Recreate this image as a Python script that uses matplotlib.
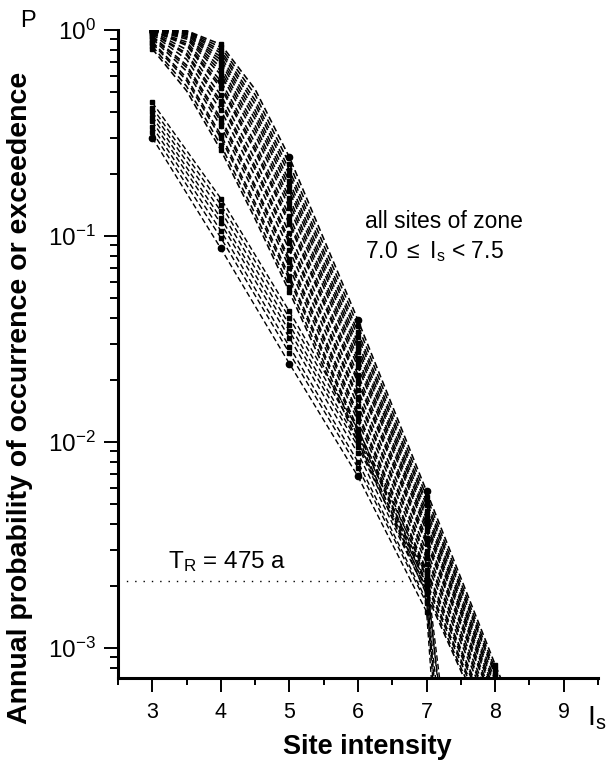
import matplotlib
matplotlib.use("Agg")
import matplotlib.pyplot as plt
from matplotlib.ticker import FixedLocator, FixedFormatter, MultipleLocator, LogLocator, NullFormatter

plt.rcParams["font.family"] = ["Liberation Sans", "DejaVu Sans"]
plt.rcParams["mathtext.fontset"] = "custom"
plt.rcParams["mathtext.rm"] = "Liberation Sans"
plt.rcParams["mathtext.it"] = "Liberation Sans:italic"
plt.rcParams["mathtext.bf"] = "Liberation Sans:bold"

# hazard curves of the sites, upper group
INTENSITY_UPPER = [3.0, 3.5, 4.0, 4.5, 5.0, 6.0, 7.0, 8.0, 8.5]
P_UPPER = [
    [0.810, 0.507, 0.261, 0.121, 0.0535, 0.00995, 0.00182, 0.00033],
    [0.834, 0.533, 0.276, 0.128, 0.0567, 0.0105, 0.00190, 0.00034],
    [0.863, 0.568, 0.299, 0.139, 0.0613, 0.0112, 0.00201, 0.00036],
    [0.877, 0.586, 0.310, 0.145, 0.0638, 0.0116, 0.00208, 0.00037],
    [0.908, 0.631, 0.341, 0.160, 0.0702, 0.0126, 0.00222, 0.00039],
    [0.924, 0.658, 0.360, 0.170, 0.0745, 0.0133, 0.00233, 0.00040],
    [0.934, 0.676, 0.373, 0.176, 0.0773, 0.0138, 0.00239, 0.00041],
    [0.954, 0.720, 0.408, 0.195, 0.0853, 0.0150, 0.00257, 0.00044],
    [0.968, 0.755, 0.438, 0.210, 0.0921, 0.0161, 0.00272, 0.00046],
    [0.973, 0.771, 0.453, 0.218, 0.0956, 0.0166, 0.00279, 0.00047],
    [0.982, 0.803, 0.483, 0.235, 0.103, 0.0178, 0.00296, 0.00049],
    [0.990, 0.841, 0.524, 0.258, 0.114, 0.0194, 0.00319, 0.00052],
    [0.992, 0.855, 0.540, 0.268, 0.118, 0.0201, 0.00329, 0.00053],
    [0.994, 0.875, 0.565, 0.283, 0.125, 0.0212, 0.00343, 0.00055],
    [0.997, 0.904, 0.607, 0.310, 0.137, 0.0231, 0.00369, 0.00058],
    [0.998, 0.920, 0.632, 0.327, 0.145, 0.0243, 0.00385, 0.00060],
    [0.999, 0.934, 0.658, 0.344, 0.153, 0.0255, 0.00400, 0.00062],
    [1.000, 0.950, 0.691, 0.369, 0.165, 0.0273, 0.00424, 0.00065],
    [1.000, 0.960, 0.716, 0.388, 0.174, 0.0287, 0.00442, 0.00067],
    [1.000, 0.969, 0.741, 0.408, 0.184, 0.0303, 0.00464, 0.00070, 0.00027],
    [1.000, 0.978, 0.772, 0.435, 0.198, 0.0324, 0.00492, 0.00074, 0.00029],
    [1.000, 0.984, 0.795, 0.456, 0.209, 0.0341, 0.00513, 0.00076, 0.00030],
    [1.000, 0.989, 0.824, 0.485, 0.224, 0.0365, 0.00543, 0.00079, 0.00031],
    [1.000, 0.993, 0.851, 0.515, 0.241, 0.0390, 0.00576, 0.00083, 0.00033],
]

# lower group, ending at the maximum site intensity
INTENSITY_LOWER = [3.0, 4.0, 5.0, 6.0, 7.0]
P_LOWER = [
    [0.300, 0.087, 0.0240, 0.0068, 0.00150],
    [0.320, 0.098, 0.0270, 0.0075, 0.00165],
    [0.340, 0.106, 0.0290, 0.0080, 0.00170],
    [0.360, 0.115, 0.0320, 0.0088, 0.00185],
    [0.380, 0.122, 0.0345, 0.0095, 0.00195],
    [0.400, 0.132, 0.0370, 0.0100, 0.00205],
    [0.420, 0.142, 0.0400, 0.0108, 0.00220],
    [0.445, 0.152, 0.0430, 0.0115, 0.00230],
]
LOWER_MAX_INTENSITY = [7.15, 7.22, 7.18, 7.25, 7.2, 7.3, 7.28, 7.33]
P_BELOW_MAX = 0.0003

# single sites drawn with dots
DOT_INTENSITY = [4.0, 5.0, 6.0, 7.0]
DOT_P = [0.565, 0.241, 0.0390, 0.00576]

RETURN_PERIOD = 475
RETURN_LINE_END = 6.92

Y_TICKS = [1e-3, 1e-2, 1e-1, 1e0]
Y_TICK_LABELS = [r"$\mathregular{10^{-3}}$", r"$\mathregular{10^{-2}}$",
                 r"$\mathregular{10^{-1}}$", r"$\mathregular{10^{0}}$"]

DASH = (0, (4, 2.2))


def integer_marks(xs):
    return [i for i, v in enumerate(xs) if float(v).is_integer()]


fig = plt.figure(figsize=(6.07, 7.62), dpi=100)
ax = fig.add_axes([118 / 607, 1 - 678 / 762, 480 / 607, 648 / 762])

for p in P_UPPER:
    xs = INTENSITY_UPPER[:len(p)]
    ax.plot(xs, p, color="black", lw=1.15, ls=DASH, marker="s", ms=2.8,
            markevery=integer_marks(xs))

for p, imax in zip(P_LOWER, LOWER_MAX_INTENSITY):
    xs = INTENSITY_LOWER + [imax]
    ax.plot(xs, p + [P_BELOW_MAX], color="black", lw=1.0, ls=DASH, marker="s",
            ms=2.8, markevery=integer_marks(INTENSITY_LOWER))

ax.plot(INTENSITY_LOWER[:4], P_LOWER[0][:4], "o", color="black", ms=4.5)
ax.plot(DOT_INTENSITY, DOT_P, "o", color="black", ms=4.5)

ax.plot([2.5, RETURN_LINE_END], [1 / RETURN_PERIOD] * 2, color="black",
        lw=1.0, ls=(0, (1, 5)))

ax.set_yscale("log")
ax.set_xlim(2.5, 9.5)
ax.set_ylim(7.15e-4, 1.0)

for side in ("top", "right"):
    ax.spines[side].set_visible(False)
for side in ("left", "bottom"):
    ax.spines[side].set_linewidth(2.2)

ax.xaxis.set_major_locator(MultipleLocator(1))
ax.xaxis.set_minor_locator(MultipleLocator(0.5))
ax.yaxis.set_major_locator(FixedLocator(Y_TICKS))
ax.yaxis.set_major_formatter(FixedFormatter(Y_TICK_LABELS))
ax.yaxis.set_minor_locator(LogLocator(base=10, subs=range(2, 10)))
ax.yaxis.set_minor_formatter(NullFormatter())

ax.tick_params(axis="x", which="major", direction="out", length=10, width=1.4,
               labelsize=15.5, pad=7)
ax.tick_params(axis="x", which="minor", direction="out", length=5, width=1.4)
ax.tick_params(axis="y", which="major", direction="out", length=10, width=1.4,
               labelsize=17.5, pad=6)
ax.tick_params(axis="y", which="minor", direction="out", length=6, width=1.4)

fig.text(20 / 607, 1 - 398 / 762, "Annual probability of occurrence or exceedence",
         rotation=90, ha="center", va="center", fontsize=20.5, fontweight="bold")
fig.text(367 / 607, 1 - 754 / 762, "Site intensity", ha="center", va="baseline",
         fontsize=19.5, fontweight="bold")
fig.text(28 / 607, 1 - 27 / 762, "P", ha="center", va="baseline", fontsize=17)
fig.text(587 / 607, 1 - 725 / 762, r"I$_\mathregular{s}$", ha="left",
         va="baseline", fontsize=20.5)

fig.text(365 / 607, 1 - 228 / 762, "all sites of zone", ha="left",
         va="baseline", fontsize=16.5)
fig.text(365 / 607, 1 - 258 / 762, r"7.0 $\leq$ I$_\mathregular{s}$ < 7.5",
         ha="left", va="baseline", fontsize=16.5)
fig.text(168 / 607, 1 - 568 / 762, r"T$_\mathregular{R}$ = 475 a", ha="left",
         va="baseline", fontsize=17.5)

fig.savefig("out.png", dpi=100)
